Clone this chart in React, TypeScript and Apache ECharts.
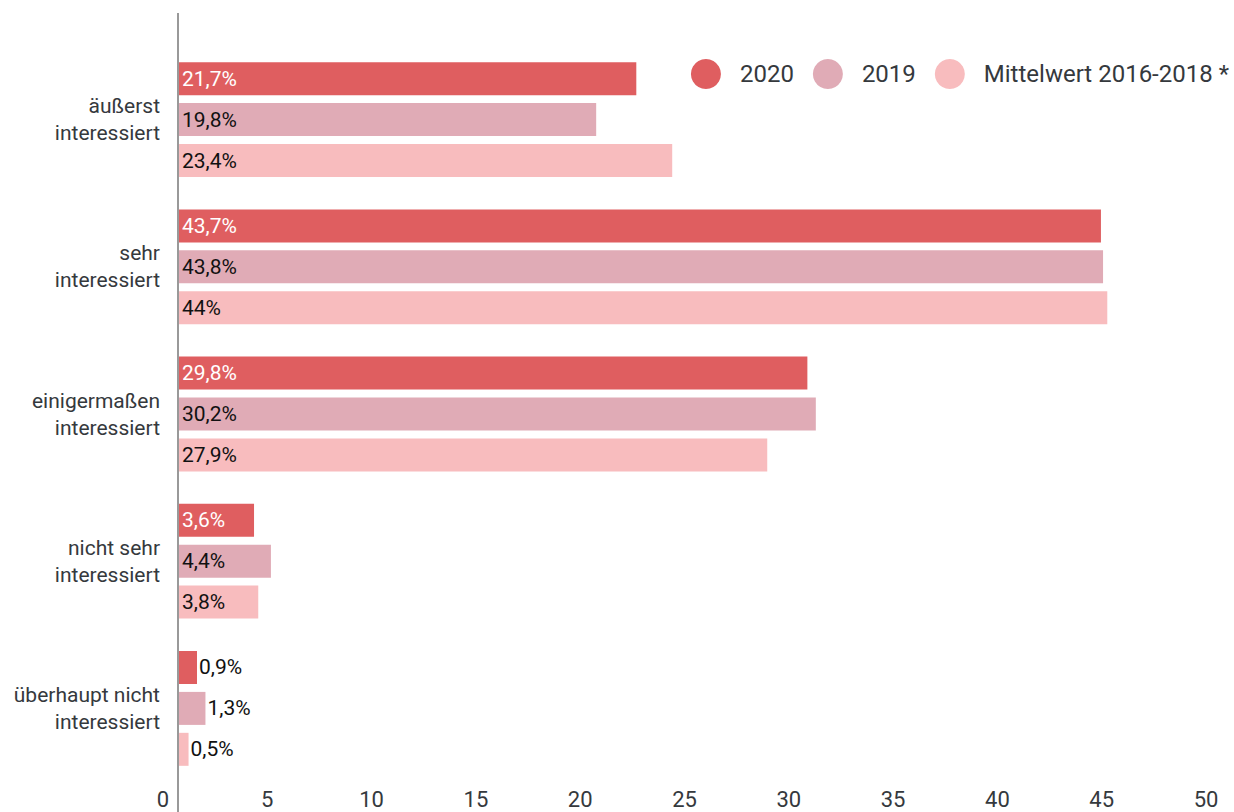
import React, { useEffect, useRef } from "react";
import * as echarts from "echarts";

const categories = [
  "äußerst\ninteressiert",
  "sehr\ninteressiert",
  "einigermaßen\ninteressiert",
  "nicht sehr\ninteressiert",
  "überhaupt nicht\ninteressiert",
];
const seriesNames = ["2020", "2019", "Mittelwert 2016-2018 *"];
const values2020 = [21.7, 43.7, 29.8, 3.6, 0.9];
const values2019 = [19.8, 43.8, 30.2, 4.4, 1.3];
const valuesAvg = [23.4, 44, 27.9, 3.8, 0.5];
const xMin = 0;
const xMax = 50;
const xInterval = 5;

const colors = ["#df5e60", "#e0abb6", "#f8bcbe"];
const insideLabelColors = ["#ffffff", "#111111", "#111111"];

export default function App() {
  const ref = useRef<HTMLDivElement>(null);

  useEffect(() => {
    if (!ref.current) return;
    const chart = echarts.init(ref.current, null, { renderer: "svg" });
    const allValues = [values2020, values2019, valuesAvg];
    const fmt = (p: any) => String(p.value).replace(".", ",") + "%";

    const series = allValues.map((vals, si) => ({
      name: seriesNames[si],
      type: "bar",
      xAxisIndex: 0,
      yAxisIndex: 0,
      barWidth: 33,
      barGap: "24%",
      itemStyle: { color: colors[si] },
      data: vals.map((v) => ({
        value: v,
        label:
          v < 2
            ? { position: "right", distance: 2, color: "#111111" }
            : { position: "insideLeft", distance: 4, color: insideLabelColors[si] },
      })),
      label: {
        show: true,
        formatter: fmt,
        fontFamily: "Roboto",
        fontSize: 21,
      },
    }));

    chart.setOption({
      animation: false,
      textStyle: { fontFamily: "Roboto" },
      grid: [
        { left: 178, right: 0, top: 46, bottom: 30, containLabel: false },
        { left: 163, right: 28, top: 46, bottom: 30, containLabel: false },
      ],
      legend: {
        data: seriesNames,
        right: 0,
        top: 54,
        icon: "circle",
        itemWidth: 30,
        itemHeight: 30,
        itemGap: 19,
        textStyle: { fontFamily: "Roboto", fontSize: 24, color: "#35393d", padding: [0, 0, 0, 14] },
      },
      xAxis: [
        {
          type: "value",
          gridIndex: 0,
          min: xMin,
          max: xMax,
          interval: xInterval,
          show: false,
        },
        {
          type: "value",
          gridIndex: 1,
          min: xMin,
          max: xMax,
          interval: xInterval,
          axisLine: { show: false },
          axisTick: { show: false },
          splitLine: { show: false },
          axisLabel: {
            fontFamily: "Roboto",
            fontSize: 22,
            color: "#35393d",
            margin: 6,
          },
        },
      ],
      yAxis: [
        {
          type: "category",
          gridIndex: 0,
          data: categories,
          inverse: true,
          axisLine: { show: false },
          axisTick: { show: false },
          axisLabel: {
            fontFamily: "Roboto",
            fontSize: 21,
            lineHeight: 27,
            color: "#35393d",
            margin: 18,
            align: "right",
            padding: [13, 0, 0, 0],
          },
        },
        { type: "value", gridIndex: 1, show: false, min: 0, max: 1 },
      ],
      graphic: [
        {
          type: "line",
          z: 100,
          shape: { x1: 178, y1: 13, x2: 178, y2: 812 },
          style: { stroke: "#999999", lineWidth: 2 },
        },
      ],
      series,
    });
    return () => chart.dispose();
  }, []);

  return (
    <div
      ref={ref}
      style={{ position: "absolute", left: 0, top: 0, width: 1234, height: 812 }}
    />
  );
}
